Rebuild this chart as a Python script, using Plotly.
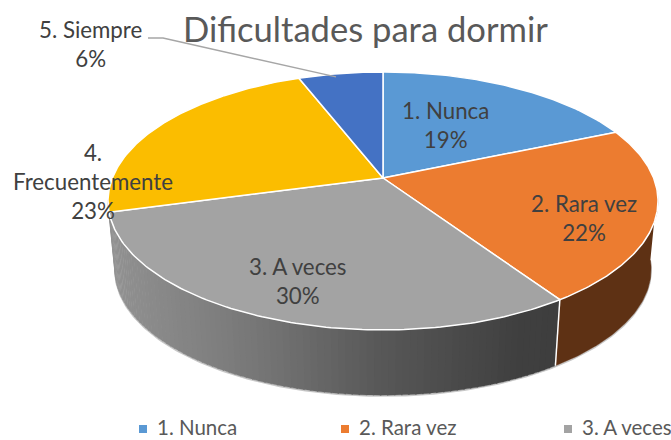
import numpy as np
import plotly.graph_objects as go

categories = ["1. Nunca", "2. Rara vez", "3. A veces", "4. Frecuentemente", "5. Siempre"]
values = [18.6, 22.0, 30.2, 23.3, 5.9]
slice_colors = ["#5A99D4", "#EC7C30", "#A3A3A3", "#FBBD00", "#4472C4"]
legend_categories = categories[:3]
title_text = "Dificultades para dormir"

FONT = "Lato, Carlito, Calibri, sans-serif"
CX, CY, A, B, K = 383.0, 178.0, 270.6, 124.9, 0.178
CY2, SHRINK = 247.0, 0.975


def top(t):
    u, v = np.sin(t), np.cos(t)
    s = 1 / (1 + K * v)
    return CX + A * u * s, CY - B * v * s


def bottom(t):
    u, v = np.sin(t), np.cos(t)
    s = 1 / (1 + K * v)
    return CX + SHRINK * A * u * s, CY2 - SHRINK * B * v * s


def gray_at(x):
    stops_x = [110, 250, 380, 520, 560]
    stops_g = [0x92, 0x78, 0x58, 0x40, 0x3e]
    g = int(np.interp(x, stops_x, stops_g))
    return f"rgb({g},{g},{g})"


cum = np.cumsum([0] + values) / sum(values) * 2 * np.pi
fig = go.Figure()


def poly(xs, ys, fill, line_color=None, width=0):
    fig.add_trace(go.Scatter(
        x=list(xs), y=list(ys), mode="lines", fill="toself", fillcolor=fill,
        line=dict(color=line_color or fill, width=width),
        hoverinfo="skip", showlegend=False))


# outer thin outline of the side wall
ot = np.linspace(np.radians(96), np.radians(260), 200)
bx, by = bottom(ot)
fig.add_trace(go.Scatter(x=bx, y=by + 1, mode="lines", line=dict(color="#c8c8c8", width=1.5),
                         hoverinfo="skip", showlegend=False))

# orange wall
t = np.linspace(np.radians(96), cum[2], 60)
tx, ty = top(t)
bx, by = bottom(t)
poly(np.r_[tx, bx[::-1]], np.r_[ty, by[::-1]], "#5E3114", "#5E3114", 0.5)

# gray wall as shaded strips
edges = np.linspace(cum[2], np.radians(260), 91)
for a, b in zip(edges[:-1], edges[1:]):
    t = np.array([a, b + 0.004])
    tx, ty = top(t)
    bx, by = bottom(t)
    poly(np.r_[tx, bx[::-1]], np.r_[ty, by[::-1]], gray_at(tx.mean()), gray_at(tx.mean()), 0.5)

# seam between the wall pieces
sx0, sy0 = top(cum[2])
sx1, sy1 = bottom(cum[2])
fig.add_trace(go.Scatter(x=[sx0, sx1], y=[sy0, sy1], mode="lines", line=dict(color="white", width=1.5),
                         hoverinfo="skip", showlegend=False))

# top face
for name, c, a, b in zip(categories, slice_colors, cum[:-1], cum[1:]):
    t = np.linspace(a, b, 120)
    tx, ty = top(t)
    fig.add_trace(go.Scatter(
        x=np.r_[CX, tx, CX], y=np.r_[CY, ty, CY], mode="lines", fill="toself", fillcolor=c,
        line=dict(color="white", width=1.5), name=name, hoverinfo="name", showlegend=False))

# leader line of the last label
lx, ly = top((cum[4] + cum[5]) / 2 - 0.02)
fig.add_trace(go.Scatter(x=[148, 163, lx], y=[38, 38, ly + 3], mode="lines",
                         line=dict(color="#A6A6A6", width=1.5), hoverinfo="skip", showlegend=False))

# legend row
legend_x = [143, 345, 568]
legend_y = 429
fig.add_trace(go.Scatter(
    x=legend_x, y=[legend_y] * 3, mode="markers",
    marker=dict(symbol="square", size=8, color=slice_colors[:3]),
    hoverinfo="skip", showlegend=False))

label_pos = [(445, 125), (584, 218), (298, 281), (93, 181), (90, 44)]
label_names = ["1. Nunca", "2. Rara vez", "3. A veces", "4.<br>Frecuentemente", "5. Siempre"]
annotations = []
for name, v, (x, y) in zip(label_names, values, label_pos):
    annotations.append(dict(x=x, y=y, xref="x", yref="y", text=f"{name}<br>{round(v)}%", showarrow=False,
                            align="center", font=dict(family=FONT, size=22.3, color="#404040")))
for name, x in zip(legend_categories, legend_x):
    annotations.append(dict(x=x + 12, y=legend_y - 2, xref="x", yref="y", text=name, showarrow=False,
                            xanchor="left", font=dict(family=FONT, size=20.5, color="#595959")))
annotations.append(dict(x=365, y=28, xref="x", yref="y", text=title_text, showarrow=False,
                        font=dict(family=FONT, size=34.6, color="#595959")))

fig.update_layout(
    width=671, height=440, margin=dict(l=0, r=0, t=0, b=0),
    paper_bgcolor="white", plot_bgcolor="white",
    xaxis=dict(range=[0, 671], visible=False, fixedrange=True),
    yaxis=dict(range=[440, 0], visible=False, fixedrange=True),
    annotations=annotations,
    showlegend=False,
)
# remove the page's default body margin so the figure fills the window exactly
fig.write_html("out.html", config={"displayModeBar": False},
               post_script="document.body.style.margin='0';document.body.style.overflow='hidden';")
